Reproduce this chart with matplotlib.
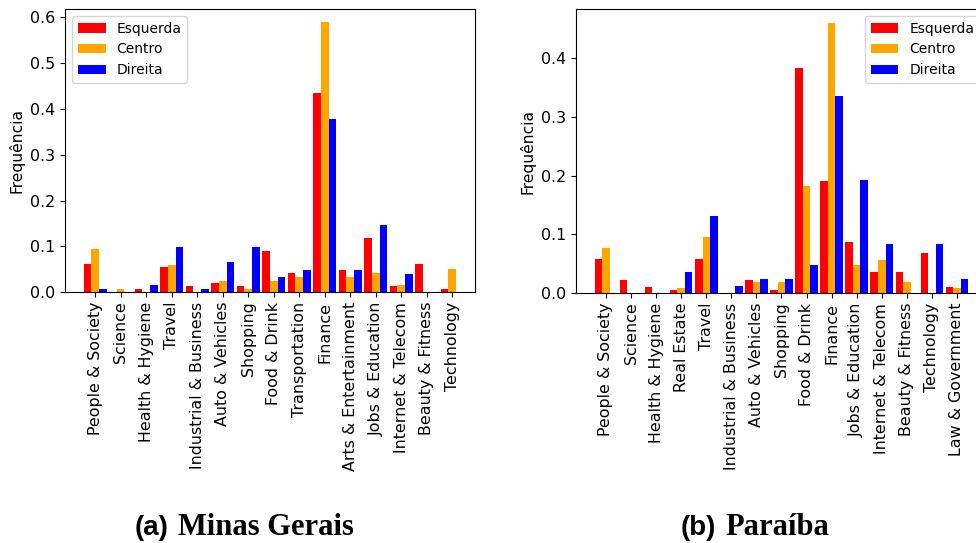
"""
Frequência de categorias por orientação política (Minas Gerais e Paraíba)
"""
import matplotlib
matplotlib.use('Agg')
import matplotlib.pyplot as plt
import numpy as np

series_names = ['Esquerda', 'Centro', 'Direita']
series_colors = ['red', 'orange', 'blue']

mg_categories = [
    'People & Society', 'Science', 'Health & Hygiene', 'Travel',
    'Industrial & Business', 'Auto & Vehicles', 'Shopping', 'Food & Drink',
    'Transportation', 'Finance', 'Arts & Entertainment', 'Jobs & Education',
    'Internet & Telecom', 'Beauty & Fitness', 'Technology',
]
mg_esquerda = [0.061, 0.0, 0.0066, 0.055, 0.013, 0.020, 0.013, 0.090,
               0.042, 0.436, 0.048, 0.118, 0.013, 0.061, 0.0066]
mg_centro = [0.094, 0.0066, 0.0, 0.059, 0.0, 0.024, 0.0066, 0.024,
             0.033, 0.589, 0.033, 0.042, 0.015, 0.0, 0.050]
mg_direita = [0.0066, 0.0, 0.015, 0.0985, 0.0066, 0.066, 0.0985, 0.033,
              0.048, 0.379, 0.048, 0.147, 0.039, 0.0, 0.0]

pb_categories = [
    'People & Society', 'Science', 'Health & Hygiene', 'Real Estate',
    'Travel', 'Industrial & Business', 'Auto & Vehicles', 'Shopping',
    'Food & Drink', 'Finance', 'Jobs & Education', 'Internet & Telecom',
    'Beauty & Fitness', 'Technology', 'Law & Government',
]
pb_esquerda = [0.0585, 0.023, 0.011, 0.0057, 0.0585, 0.0, 0.023, 0.0057,
               0.384, 0.191, 0.0875, 0.035, 0.035, 0.069, 0.011]
pb_centro = [0.077, 0.0, 0.0, 0.009, 0.096, 0.0, 0.019, 0.019,
             0.183, 0.461, 0.048, 0.057, 0.019, 0.0, 0.009]
pb_direita = [0.0, 0.0, 0.0, 0.036, 0.132, 0.0125, 0.024, 0.024,
              0.048, 0.336, 0.193, 0.084, 0.0, 0.084, 0.024]

BAR_WIDTH = 0.3


def plot_grouped(ax, categories, values, legend_loc, xlim=None):
    x = np.arange(len(categories))
    offsets = [-BAR_WIDTH, 0, BAR_WIDTH]
    for vals, name, color, off in zip(values, series_names, series_colors, offsets):
        ax.bar(x + off, vals, width=BAR_WIDTH, color=color, label=name)
    ax.set_xticks(x)
    ax.set_xticklabels(categories, rotation=90, fontsize=11.4)
    ax.tick_params(axis='y', labelsize=11.4)
    ax.set_ylabel('Frequência', fontsize=11.2)
    if xlim is not None:
        ax.set_xlim(*xlim)
    ax.legend(loc=legend_loc, fontsize=10)


def add_caption(fig, xc, letter, name, gap=9):
    # "(a)" in sans bold, the state name in serif bold
    sans = dict(fontsize=20, fontweight='bold', family='Liberation Sans')
    serif = dict(fontsize=22, fontweight='bold', family='Liberation Serif')
    t1 = fig.text(0, 0, letter, alpha=0, **sans)
    t2 = fig.text(0, 0, name, alpha=0, **serif)
    fig.canvas.draw()
    r = fig.canvas.get_renderer()
    w1 = t1.get_window_extent(r).width
    w2 = t2.get_window_extent(r).width
    t1.remove()
    t2.remove()
    W = fig.bbox.width
    x0 = xc - (w1 + gap + w2) / 2 / W
    y = 8 / fig.bbox.height
    fig.text(x0, y, letter, va='baseline', **sans)
    fig.text(x0 + (w1 + gap) / W, y, name, va='baseline', **serif)


fig = plt.figure(figsize=(9.76, 5.43), dpi=100)
ax1 = fig.add_axes([0.0669, 0.4622, 0.4198, 0.5212])
ax2 = fig.add_axes([0.5902, 0.4604, 0.4210, 0.5230])

plot_grouped(ax1, mg_categories, [mg_esquerda, mg_centro, mg_direita],
             'upper left', xlim=(-1.17, 14.89))
plot_grouped(ax2, pb_categories, [pb_esquerda, pb_centro, pb_direita],
             'upper right')

add_caption(fig, 0.250, '(a)', 'Minas Gerais')
add_caption(fig, 0.7736, '(b)', 'Paraíba')

fig.savefig('out.png', dpi=100)
